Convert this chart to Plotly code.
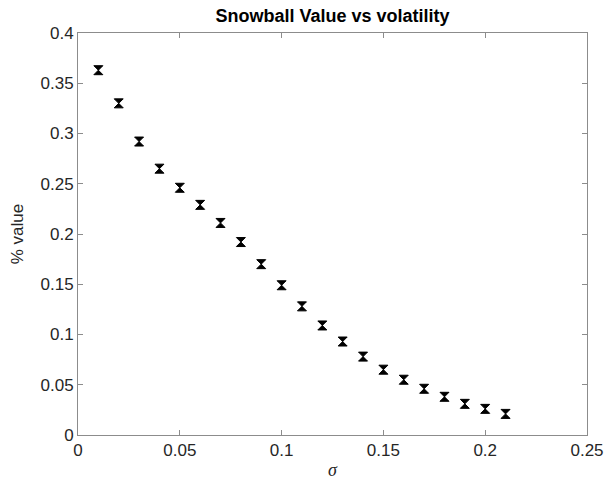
import plotly.graph_objects as go

# Volatility levels and the corresponding snowball value
sigma = [0.01, 0.02, 0.03, 0.04, 0.05, 0.06, 0.07, 0.08, 0.09, 0.10, 0.11,
         0.12, 0.13, 0.14, 0.15, 0.16, 0.17, 0.18, 0.19, 0.20, 0.21]
value = [0.363, 0.330, 0.292, 0.265, 0.246, 0.229, 0.211, 0.192, 0.170, 0.149, 0.128,
         0.109, 0.093, 0.078, 0.065, 0.055, 0.046, 0.038, 0.031, 0.026, 0.021]

x_ticks = [0, 0.05, 0.1, 0.15, 0.2, 0.25]
x_tick_text = ["0", "0.05", "0.1", "0.15", "0.2", "0.25"]
y_ticks = [0, 0.05, 0.1, 0.15, 0.2, 0.25, 0.3, 0.35, 0.4]
y_tick_text = ["0", "0.05", "0.1", "0.15", "0.2", "0.25", "0.3", "0.35", "0.4"]

fig = go.Figure()
fig.add_trace(go.Scatter(
    x=sigma, y=value, mode="markers",
    marker=dict(symbol="hourglass", size=9, color="black",
                line=dict(color="black", width=1)),
    showlegend=False,
))

axis_common = dict(
    showline=True, mirror="ticks", linecolor="#8c8c8c", linewidth=1,
    ticks="inside", ticklen=5, tickcolor="#8c8c8c", tickwidth=1,
    showgrid=False, zeroline=False, automargin=False,
    tickfont=dict(family="Liberation Sans, Arial", size=17, color="#262626"),
)

fig.update_layout(
    width=604, height=485,
    margin=dict(l=78, r=17, t=33, b=50),
    paper_bgcolor="white", plot_bgcolor="white",
    title=dict(text="<b>Snowball Value vs volatility</b>", xref="paper", x=0.5, xanchor="center",
               y=1 - 16 / 485, yanchor="middle",
               font=dict(family="Liberation Sans, Arial", size=18, color="black")),
    xaxis=dict(range=[0, 0.25], tickvals=x_ticks, ticktext=x_tick_text,
               title=dict(text="<i>σ</i>", standoff=3,
                          font=dict(family="Liberation Serif, Times New Roman", size=18, color="#262626")),
               **axis_common),
    yaxis=dict(range=[0, 0.4], tickvals=y_ticks, ticktext=y_tick_text,
               title=dict(text="% value", standoff=12,
                          font=dict(family="Liberation Sans, Arial", size=17, color="#262626")),
               **axis_common),
)

fig.write_html("out.html")
